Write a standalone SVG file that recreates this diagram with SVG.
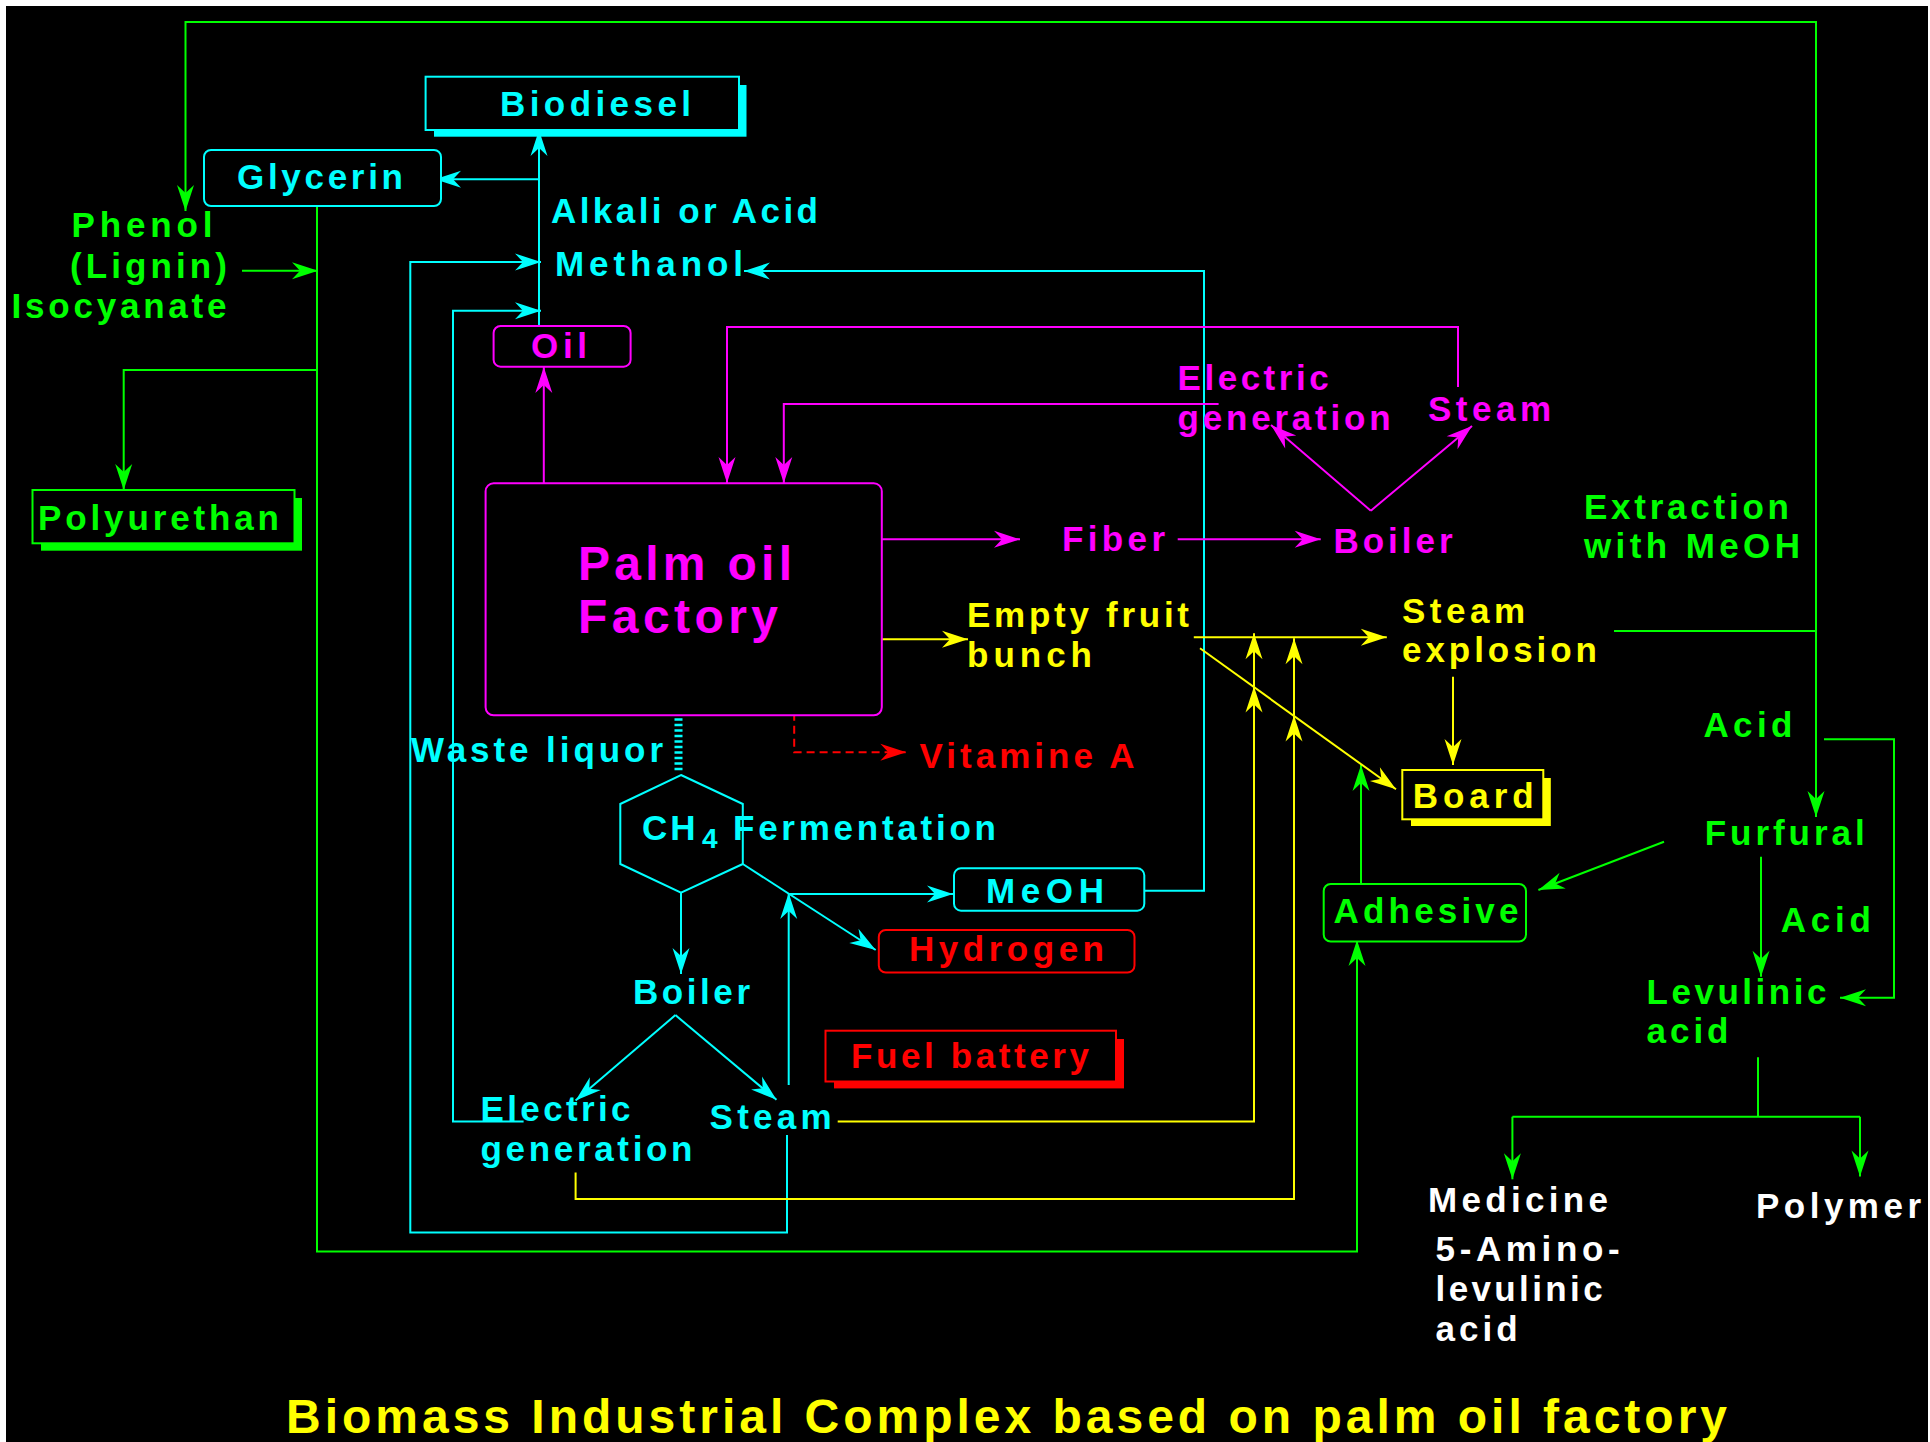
<svg xmlns="http://www.w3.org/2000/svg" width="1930" height="1442" viewBox="0 0 1930 1442">
<style>
text{font-family:"Liberation Sans",Arial,sans-serif;font-weight:bold;font-size:35px}
.big{font-size:48px}
.sub{font-size:28px}
.c{fill:#00FFFF}.m{fill:#FF00FF}.g{fill:#00FF00}.y{fill:#FFFF00}.r{fill:#FF0000}.w{fill:#FFFFFF}
.ln{fill:none;stroke-width:2}
.sc{stroke:#00FFFF}.sm{stroke:#FF00FF}.sg{stroke:#00FF00}.sy{stroke:#FFFF00}.sr{stroke:#FF0000}
.box{fill:#000;stroke-width:2}
</style>
<defs>
<marker id="ac" viewBox="-28 -10 30 20" markerWidth="30" markerHeight="20" refX="0" refY="0" markerUnits="userSpaceOnUse" orient="auto"><path d="M0,0 L-26,-8.5 L-18,0 L-26,8.5 Z" fill="#00FFFF"/></marker>
<marker id="am" viewBox="-28 -10 30 20" markerWidth="30" markerHeight="20" refX="0" refY="0" markerUnits="userSpaceOnUse" orient="auto"><path d="M0,0 L-26,-8.5 L-18,0 L-26,8.5 Z" fill="#FF00FF"/></marker>
<marker id="ag" viewBox="-28 -10 30 20" markerWidth="30" markerHeight="20" refX="0" refY="0" markerUnits="userSpaceOnUse" orient="auto"><path d="M0,0 L-26,-8.5 L-18,0 L-26,8.5 Z" fill="#00FF00"/></marker>
<marker id="ay" viewBox="-28 -10 30 20" markerWidth="30" markerHeight="20" refX="0" refY="0" markerUnits="userSpaceOnUse" orient="auto"><path d="M0,0 L-26,-8.5 L-18,0 L-26,8.5 Z" fill="#FFFF00"/></marker>
<marker id="ar" viewBox="-28 -10 30 20" markerWidth="30" markerHeight="20" refX="0" refY="0" markerUnits="userSpaceOnUse" orient="auto"><path d="M0,0 L-26,-8.5 L-18,0 L-26,8.5 Z" fill="#FF0000"/></marker>
</defs>
<rect x="0" y="0" width="1930" height="1442" fill="#FFFFFF"/>
<rect x="6" y="6" width="1922" height="1436" fill="#000000"/>

<g id="connectors">
<!-- green -->
<path class="ln sg" d="M1614,631 H1816"/>
<path class="ln sg" d="M1816,631 V22 H185.5 V211" marker-end="url(#ag)"/>
<path class="ln sg" d="M1816,631 V817" marker-end="url(#ag)"/>
<path class="ln sg" d="M242,270.7 H318" marker-end="url(#ag)"/>
<path class="ln sg" d="M317,201 V1251.5 H1357 V940" marker-end="url(#ag)"/>
<path class="ln sg" d="M317,370 H123.7 V490" marker-end="url(#ag)"/>
<path class="ln sg" d="M1361,884 V765" marker-end="url(#ag)"/>
<path class="ln sg" d="M1824,739.3 H1894 V997.8 H1840" marker-end="url(#ag)"/>
<path class="ln sg" d="M1664,841.7 L1538.4,890" marker-end="url(#ag)"/>
<path class="ln sg" d="M1761,856.7 V976.7" marker-end="url(#ag)"/>
<path class="ln sg" d="M1758,1057.3 V1116.7 M1512.4,1116.7 H1860"/>
<path class="ln sg" d="M1512.4,1116.7 V1179.3" marker-end="url(#ag)"/>
<path class="ln sg" d="M1860,1116.7 V1176.5" marker-end="url(#ag)"/>
<!-- cyan -->
<path class="ln sc" d="M539,326 V130" marker-end="url(#ac)"/>
<path class="ln sc" d="M539,179.3 H435" marker-end="url(#ac)"/>
<path class="ln sc" d="M1144,890.7 H1204 V271 H744" marker-end="url(#ac)"/>
<path class="ln sc" d="M787,1135 V1232.5 H410.3 V262 H541" marker-end="url(#ac)"/>
<path class="ln sc" d="M523.6,1121.6 H453 V310.7 H541" marker-end="url(#ac)"/>
<path fill="none" stroke="#00FFFF" stroke-width="8" stroke-dasharray="2.5 3" d="M678.5,712.7 V773.3"/>
<path class="ln sc" d="M790,894 H953" marker-end="url(#ac)"/>
<path class="ln sc" d="M742.8,864 L875.7,950" marker-end="url(#ac)"/>
<path class="ln sc" d="M788.7,1085 V893" marker-end="url(#ac)"/>
<path class="ln sc" d="M681,892.7 V974" marker-end="url(#ac)"/>
<path class="ln sc" d="M675.4,1015.1 L575.6,1100.5" marker-end="url(#ac)"/>
<path class="ln sc" d="M675.4,1015.1 L776.5,1099.8" marker-end="url(#ac)"/>
<!-- magenta -->
<path class="ln sm" d="M1458,387 V327 H727 V483" marker-end="url(#am)"/>
<path class="ln sm" d="M1218.6,404 H783.8 V483" marker-end="url(#am)"/>
<path class="ln sm" d="M543.8,483 V367" marker-end="url(#am)"/>
<path class="ln sm" d="M879,539.3 H1020" marker-end="url(#am)"/>
<path class="ln sm" d="M1177.7,539.3 H1320.7" marker-end="url(#am)"/>
<path class="ln sm" d="M1370.8,510.7 L1271,425" marker-end="url(#am)"/>
<path class="ln sm" d="M1370.8,510.7 L1472,426" marker-end="url(#am)"/>
<!-- yellow -->
<path class="ln sy" d="M879,639.3 H968" marker-end="url(#ay)"/>
<path class="ln sy" d="M1193.8,637.3 H1386.8" marker-end="url(#ay)"/>
<path class="ln sy" d="M1200,648.3 L1396,789.3" marker-end="url(#ay)"/>
<path class="ln sy" d="M1453,676.7 V765" marker-end="url(#ay)"/>
<path class="ln sy" d="M837.7,1121.6 H1254 V686.5" marker-end="url(#ay)"/>
<path class="ln sy" d="M1254,686.5 V633.3" marker-end="url(#ay)"/>
<path class="ln sy" d="M575.6,1172.4 V1199 H1294 V715.5" marker-end="url(#ay)"/>
<path class="ln sy" d="M1294,715.5 V638.3" marker-end="url(#ay)"/>
<!-- red -->
<path class="ln sr" stroke-dasharray="8 5" d="M794.2,712.7 V752.3 H906.3" marker-end="url(#ar)"/>
</g>

<g id="biodiesel">
<rect x="434" y="85" width="312.5" height="51.7" fill="#00FFFF"/>
<rect class="box sc" x="425.6" y="76.7" width="313.4" height="53.3"/>
<text class="c" x="500" y="116" textLength="191" lengthAdjust="spacing">Biodiesel</text>
</g>
<g id="glycerin">
<rect class="box sc" x="204" y="150" width="237" height="56" rx="7"/>
<text class="c" x="237" y="189" textLength="166" lengthAdjust="spacing">Glycerin</text>
</g>
<g id="alkali"><text class="c" x="551" y="222.7" textLength="267" lengthAdjust="spacing">Alkali or Acid</text></g>
<g id="methanol"><text class="c" x="555" y="276" textLength="188" lengthAdjust="spacing">Methanol</text></g>
<g id="oil">
<rect class="box sm" x="493.6" y="326" width="137" height="40.7" rx="7"/>
<text class="m" x="531" y="358" textLength="56" lengthAdjust="spacing">Oil</text>
</g>
<g id="phenol">
<text class="g" x="71.5" y="237.3" textLength="141" lengthAdjust="spacing">Phenol</text>
<text class="g" x="70" y="278" textLength="157" lengthAdjust="spacing">(Lignin)</text>
<text class="g" x="11.5" y="318" textLength="215" lengthAdjust="spacing">Isocyanate</text>
</g>
<g id="polyurethan">
<rect x="41" y="498" width="261" height="52.7" fill="#00FF00"/>
<rect class="box sg" x="32.5" y="490" width="262" height="53.3"/>
<text class="g" x="38" y="530" textLength="241" lengthAdjust="spacing">Polyurethan</text>
</g>
<g id="factory">
<rect class="box sm" x="485.6" y="483.3" width="396.2" height="232" rx="8"/>
<text class="m big" x="578" y="580" textLength="214" lengthAdjust="spacing">Palm oil</text>
<text class="m big" x="578" y="633.3" textLength="200" lengthAdjust="spacing">Factory</text>
</g>
<g id="electric-gen-top">
<text class="m" x="1177.6" y="390" textLength="151" lengthAdjust="spacing">Electric</text>
<text class="m" x="1177.6" y="430" textLength="213" lengthAdjust="spacing">generation</text>
</g>
<g id="steam-top"><text class="m" x="1428" y="420.7" textLength="123" lengthAdjust="spacing">Steam</text></g>
<g id="fiber"><text class="m" x="1062" y="551" textLength="103" lengthAdjust="spacing">Fiber</text></g>
<g id="boiler-top"><text class="m" x="1333.5" y="553.3" textLength="119" lengthAdjust="spacing">Boiler</text></g>
<g id="extraction">
<text class="g" x="1584" y="519" textLength="205" lengthAdjust="spacing">Extraction</text>
<text class="g" x="1584" y="558.3" textLength="216" lengthAdjust="spacing">with MeOH</text>
</g>
<g id="efb">
<text class="y" x="967" y="626.7" textLength="222" lengthAdjust="spacing">Empty fruit</text>
<text class="y" x="967" y="667.3" textLength="125" lengthAdjust="spacing">bunch</text>
</g>
<g id="steam-explosion">
<text class="y" x="1402" y="622.7" textLength="123" lengthAdjust="spacing">Steam</text>
<text class="y" x="1402" y="661.7" textLength="195" lengthAdjust="spacing">explosion</text>
</g>
<g id="board">
<rect x="1411" y="778" width="139.8" height="48" fill="#FFFF00"/>
<rect class="box sy" x="1402.3" y="770" width="141" height="49.3"/>
<text class="y" x="1412.7" y="807.7" textLength="121" lengthAdjust="spacing">Board</text>
</g>
<g id="acid1"><text class="g" x="1703.4" y="736.7" textLength="89" lengthAdjust="spacing">Acid</text></g>
<g id="furfural"><text class="g" x="1704.7" y="845" textLength="160" lengthAdjust="spacing">Furfural</text></g>
<g id="adhesive">
<rect class="box sg" x="1323.7" y="884" width="202.3" height="57.5" rx="7"/>
<text class="g" x="1333.5" y="922.7" textLength="185" lengthAdjust="spacing">Adhesive</text>
</g>
<g id="acid2"><text class="g" x="1780.8" y="931.8" textLength="90" lengthAdjust="spacing">Acid</text></g>
<g id="levulinic">
<text class="g" x="1646.5" y="1004.4" textLength="180" lengthAdjust="spacing">Levulinic</text>
<text class="g" x="1646.5" y="1043.4" textLength="82" lengthAdjust="spacing">acid</text>
</g>
<g id="medicine">
<text class="w" x="1428" y="1212" textLength="180" lengthAdjust="spacing">Medicine</text>
<text class="w" x="1435.6" y="1261.2" textLength="184" lengthAdjust="spacing">5-Amino-</text>
<text class="w" x="1435.6" y="1301" textLength="167" lengthAdjust="spacing">levulinic</text>
<text class="w" x="1435.6" y="1340.7" textLength="82" lengthAdjust="spacing">acid</text>
</g>
<g id="polymer"><text class="w" x="1756" y="1218" textLength="165" lengthAdjust="spacing">Polymer</text></g>
<g id="waste-liquor"><text class="c" x="411" y="761.7" textLength="252" lengthAdjust="spacing">Waste liquor</text></g>
<g id="vitamine"><text class="r" x="919.6" y="768.3" textLength="215" lengthAdjust="spacing">Vitamine A</text></g>
<g id="fermentation">
<polygon class="box sc" points="681,775 742.8,804 742.8,864 681,892.7 620.3,864 620.3,804"/>
<text class="c" x="642" y="840" letter-spacing="3">CH</text>
<text class="c sub" x="702" y="847.5">4</text>
<text class="c" x="733" y="840" textLength="263" lengthAdjust="spacing">Fermentation</text>
</g>
<g id="meoh">
<rect class="box sc" x="954" y="868.3" width="190.3" height="42.4" rx="7"/>
<text class="c" x="986" y="902.7" textLength="118" lengthAdjust="spacing">MeOH</text>
</g>
<g id="hydrogen">
<rect class="box sr" x="878.8" y="930" width="255.7" height="42.6" rx="7"/>
<text class="r" x="909" y="960.5" textLength="195" lengthAdjust="spacing">Hydrogen</text>
</g>
<g id="boiler-bottom"><text class="c" x="633" y="1004.4" textLength="117" lengthAdjust="spacing">Boiler</text></g>
<g id="electric-gen-bottom">
<text class="c" x="480.5" y="1121.2" textLength="150" lengthAdjust="spacing">Electric</text>
<text class="c" x="480.5" y="1161" textLength="212" lengthAdjust="spacing">generation</text>
</g>
<g id="steam-bottom"><text class="c" x="709.6" y="1129.2" textLength="122" lengthAdjust="spacing">Steam</text></g>
<g id="fuel-battery">
<rect x="834" y="1039" width="290" height="49.4" fill="#FF0000"/>
<rect class="box sr" x="825.5" y="1030.7" width="290.5" height="50.8"/>
<text class="r" x="851" y="1067.6" textLength="238" lengthAdjust="spacing">Fuel battery</text>
</g>
<g id="title"><text class="y big" x="286" y="1433" textLength="1441" lengthAdjust="spacing">Biomass Industrial Complex based on palm oil factory</text></g>
</svg>
